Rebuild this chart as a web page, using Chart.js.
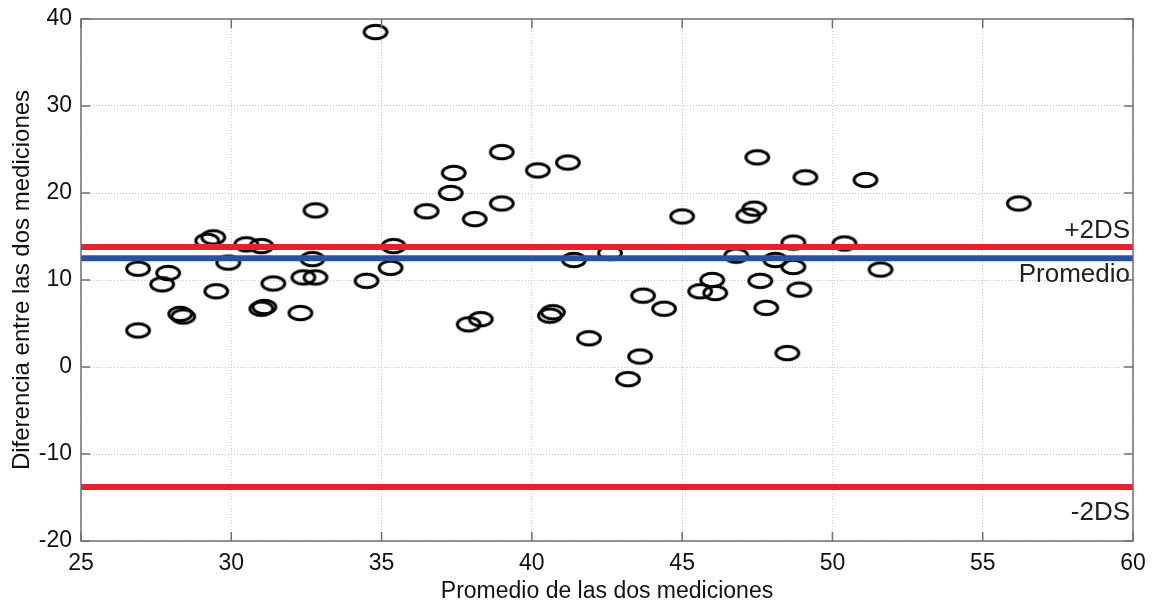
<!DOCTYPE html>
<html>
<head>
<meta charset="utf-8">
<script src="https://cdn.jsdelivr.net/npm/chart.js@4.4.1/dist/chart.umd.min.js"></script>
<style>
  html, body { margin: 0; padding: 0; background: #fff; }
</style>
</head>
<body>
<canvas id="bland" width="1154" height="605"></canvas>
<script>
// promedio (x) y diferencia (y) de las dos mediciones
const promedio = [
  26.9, 27.9, 27.7, 26.9, 28.3, 28.4, 29.5, 29.2, 29.4, 29.9,
  30.5, 31.0, 31.4, 31.0, 31.1, 32.3, 32.8, 32.7, 32.4, 32.8,
  34.5, 34.8, 35.3, 35.4, 36.5, 37.3, 37.4, 38.1, 39.0, 39.0,
  40.2, 41.2, 37.9, 38.3, 40.6, 40.7, 41.4, 42.6, 41.9, 43.7,
  44.4, 43.6, 43.2, 45.0, 47.5, 49.1, 51.1, 47.4, 47.2, 48.7,
  50.4, 46.8, 48.1, 48.7, 51.6, 46.0, 45.6, 46.1, 47.6, 48.9,
  47.8, 48.5, 56.2
];
const diferencia = [
  11.3, 10.8, 9.5, 4.2, 6.1, 5.8, 8.7, 14.5, 14.9, 12.0,
  14.1, 13.9, 9.6, 6.7, 6.9, 6.2, 18.0, 12.4, 10.3, 10.3,
  9.9, 38.5, 11.4, 13.9, 17.9, 20.0, 22.3, 17.0, 18.8, 24.7,
  22.6, 23.5, 4.9, 5.5, 5.9, 6.3, 12.3, 13.1, 3.3, 8.2,
  6.7, 1.2, -1.4, 17.3, 24.1, 21.8, 21.5, 18.2, 17.4, 14.3,
  14.2, 12.8, 12.3, 11.5, 11.2, 10.0, 8.7, 8.5, 9.9, 8.9,
  6.8, 1.6, 18.8
];

const rangoX = [25, 60];
const rangoY = [-20, 40];
const pasoX = 5;
const pasoY = 10;

const limiteSup = [13.8];   // +2DS
const media = [12.5];       // Promedio
const limiteInf = [-13.8];  // -2DS

const ROJO = "rgb(226, 35, 43)";
const AZUL = "rgb(44, 80, 160)";
const FUENTE = "'Liberation Sans', Arial, Helvetica, sans-serif";

// marcador eliptico como el de MATLAB
const elipse = document.createElement("canvas");
elipse.width = 28;
elipse.height = 20;
const ec = elipse.getContext("2d");
ec.lineWidth = 3;
ec.strokeStyle = "#000";
ec.beginPath();
ec.ellipse(14, 10, 11.4, 6.8, 0, 0, Math.PI * 2);
ec.stroke();

const puntos = promedio.map((x, i) => ({ x: x, y: diferencia[i] }));
const recta = v => [{ x: rangoX[0], y: v }, { x: rangoX[1], y: v }];

const lineaBase = {
  type: "line",
  borderWidth: 6,
  pointRadius: 0,
  borderCapStyle: "butt",
  fill: false
};

// caja del eje y marcas hacia adentro
const cajaPlugin = {
  id: "caja",
  afterDraw(chart) {
    const { ctx, chartArea: a, scales } = chart;
    ctx.save();
    ctx.strokeStyle = "#707070";
    ctx.lineWidth = 1.5;
    ctx.strokeRect(a.left, a.top, a.right - a.left, a.bottom - a.top);
    ctx.beginPath();
    scales.x.ticks.forEach(t => {
      const px = scales.x.getPixelForValue(t.value);
      ctx.moveTo(px, a.bottom); ctx.lineTo(px, a.bottom - 9);
      ctx.moveTo(px, a.top); ctx.lineTo(px, a.top + 9);
    });
    scales.y.ticks.forEach(t => {
      const py = scales.y.getPixelForValue(t.value);
      ctx.moveTo(a.left, py); ctx.lineTo(a.left + 9, py);
      ctx.moveTo(a.right, py); ctx.lineTo(a.right - 9, py);
    });
    ctx.stroke();

    // rotulos de las lineas
    ctx.fillStyle = "#222";
    ctx.font = "26px " + FUENTE;
    ctx.textAlign = "right";
    ctx.textBaseline = "middle";
    const y = scales.y;
    ctx.fillText("+2DS", a.right - 3, y.getPixelForValue(limiteSup[0]) - 16);
    ctx.fillText("Promedio", a.right - 3, y.getPixelForValue(media[0]) + 17);
    ctx.fillText("-2DS", a.right - 3, y.getPixelForValue(limiteInf[0]) + 26);
    ctx.restore();
  }
};

new Chart(document.getElementById("bland"), {
  type: "scatter",
  data: {
    datasets: [
      { ...lineaBase, label: "+2DS", data: recta(limiteSup[0]), borderColor: ROJO },
      { ...lineaBase, label: "Promedio", data: recta(media[0]), borderColor: AZUL },
      { ...lineaBase, label: "-2DS", data: recta(limiteInf[0]), borderColor: ROJO },
      {
        label: "Diferencia",
        data: puntos,
        pointStyle: elipse,
        pointRadius: 10,
        pointHoverRadius: 10
      }
    ]
  },
  options: {
    responsive: false,
    animation: false,
    layout: { padding: { top: 19, right: 21, left: 0, bottom: 0 } },
    plugins: {
      legend: { display: false },
      tooltip: { enabled: false }
    },
    scales: {
      x: {
        type: "linear",
        min: rangoX[0],
        max: rangoX[1],
        afterFit(s) { s.height = 64; s.paddingLeft = 0; s.paddingRight = 0; },
        grid: {
          color: "#c4c4c4",
          lineWidth: 1,
          drawTicks: false,
          tickLength: 0
        },
        border: { display: false, dash: [1, 2] },
        ticks: {
          stepSize: pasoX,
          padding: 9,
          color: "#111",
          font: { family: FUENTE, size: 23 }
        },
        title: {
          display: true,
          text: "Promedio de las dos mediciones",
          color: "#111",
          padding: { top: 0, bottom: 0 },
          font: { family: FUENTE, size: 23 }
        }
      },
      y: {
        type: "linear",
        min: rangoY[0],
        max: rangoY[1],
        afterFit(s) { s.width = 81; s.paddingTop = 0; s.paddingBottom = 0; },
        grid: {
          color: "#c4c4c4",
          lineWidth: 1,
          drawTicks: false,
          tickLength: 0
        },
        border: { display: false, dash: [1, 2] },
        ticks: {
          stepSize: pasoY,
          padding: 9,
          color: "#111",
          font: { family: FUENTE, size: 23 }
        },
        title: {
          display: true,
          text: "Diferencia entre las dos mediciones",
          color: "#111",
          padding: { top: 8, bottom: 0 },
          font: { family: FUENTE, size: 24 }
        }
      }
    }
  },
  plugins: [cajaPlugin]
});
</script>
</body>
</html>
